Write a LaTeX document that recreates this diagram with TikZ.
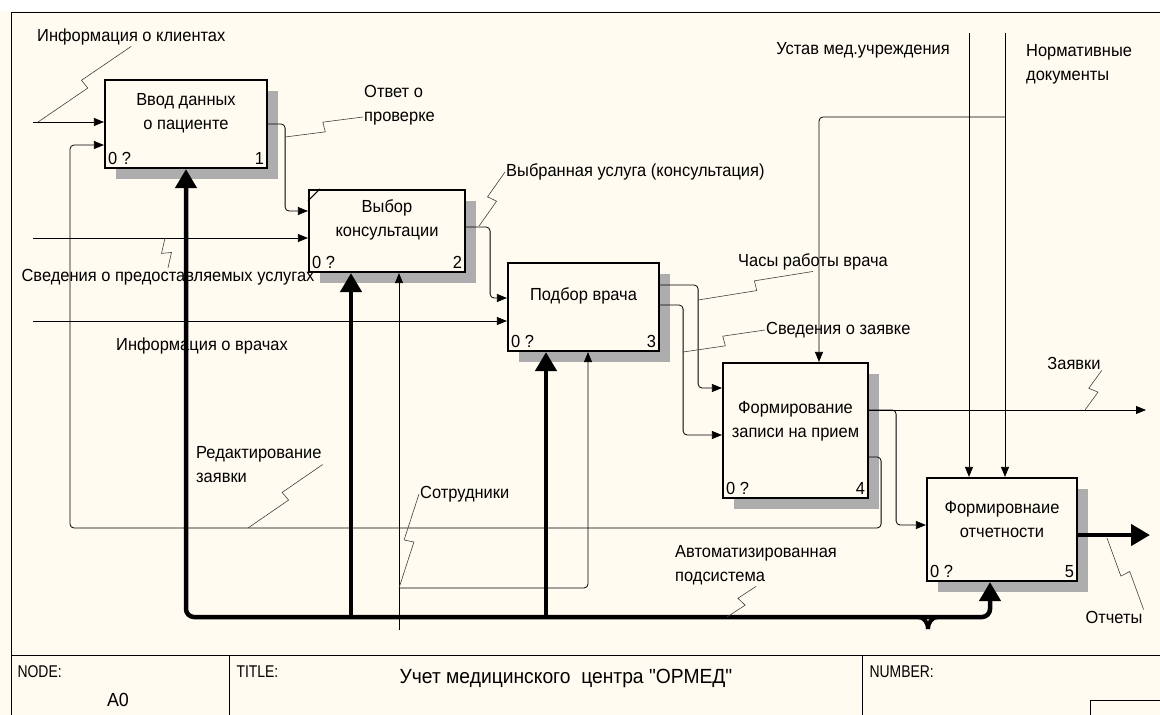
\documentclass[tikz,border=0pt]{standalone}
\usepackage{fontspec}
\setmainfont{Liberation Sans}[FakeStretch=0.94]
\newfontfamily\narrowfont{Liberation Sans}[FakeStretch=0.82]
\newfontfamily\plainfont{Liberation Sans}[FakeStretch=0.94]
\usetikzlibrary{arrows.meta,calc,shadows}
\definecolor{paper}{RGB}{255,251,240}
\newcommand\labfont{\fontsize{17.5}{24}\selectfont}

\begin{document}
\begin{tikzpicture}[x=1pt,y=-1pt,
  proc/.style={draw,line width=2.2pt,fill=paper,drop shadow={shadow xshift=11pt,shadow yshift=-11pt,fill=black!32,opacity=1}},
  ptxt/.style={font=\labfont,align=center},
  num/.style={font=\labfont,inner sep=4pt},
  lab/.style={font=\labfont,inner sep=1pt},
  flow/.style={line width=0.8pt,-{Triangle[length=10pt,width=8pt]}},
  mech/.style={line width=4.5pt,-{Triangle[length=19pt,width=21pt]}},
  squig/.style={draw=black!75,line width=0.6pt,to path={-- ($(\tikztostart)!0.5!(\tikztotarget)!5pt!-90:(\tikztotarget)$) -- ($(\tikztostart)!0.5!(\tikztotarget)!5pt!90:(\tikztotarget)$) -- (\tikztotarget)}},
  tab/.style={font=\narrowfont\fontsize{17}{20}\selectfont,anchor=west},
  frame/.style={line width=0.9pt}]
  \fill[paper] (0,0) rectangle (1160,715);
  \fill[white] (0,0) rectangle (1160,11);
  \useasboundingbox (0,0) rectangle (1160,715);

  % frame and title block
  \draw[frame] (11,715) -- (11,12) -- (1160,12);
  \draw[frame] (11,655) -- (1160,655);
  \draw[frame] (229,655) -- (229,715) (862,655) -- (862,715);
  \draw[frame] (1090,715) |- (1160,700);
  \node[tab] (tnode) at (14,672) {NODE:};
  \node[font=\fontsize{19}{22}\selectfont] (tnodeid) at (118,700) {A0};
  \node[tab] (ttitle) at (233,672) {TITLE:};
  \node[font=\plainfont\fontsize{20.5}{24}\selectfont] (ttext) at (566,678) {Учет медицинского\ \ центра "ОРМЕД"};
  \node[tab] (tnumber) at (866,672) {NUMBER:};

  % activities
  \node[proc,minimum width=162pt,minimum height=88pt] (b1) at (186,124) {};
  \node[proc,minimum width=156pt,minimum height=82pt] (b2) at (387,231) {};
  \node[proc,minimum width=151pt,minimum height=88pt] (b3) at (583.5,307) {};
  \node[proc,minimum width=145pt,minimum height=135pt] (b4) at (795.5,430.5) {};
  \node[proc,minimum width=150pt,minimum height=103pt] (b5) at (1002,529.5) {};
  \node[ptxt] (t1) at ([yshift=11pt]b1.center) {Ввод данных\\о пациенте};
  \node[ptxt] (t2) at ([yshift=11pt]b2.center) {Выбор\\консультации};
  \node[ptxt] (t3) at ([yshift=11pt]b3.center) {Подбор врача};
  \node[ptxt] (t4) at ([yshift=9pt]b4.center) {Формирование\\записи на прием};
  \node[ptxt] (t5) at ([yshift=10pt]b5.center) {Формировнаие\\отчетности};
  \foreach \b/\n in {b1/1,b2/2,b3/3,b4/4,b5/5}{
    \node[num,anchor=south west] (\b z) at (\b.south west) {0 ?};
    \node[num,anchor=south east] (\b n) at (\b.south east) {\n};
  }
  \draw[line width=1pt] ([yshift=-12pt]b2.north west) -- ([xshift=12pt]b2.north west);

  % arrow ends
  \coordinate (in1) at (33,122);
  \coordinate (in2) at (33,238);
  \coordinate (in3) at (33,321);
  \coordinate (c1) at (969,33);
  \coordinate (c2) at (1005,33);
  \coordinate (c2j) at (1005,117);
  \coordinate (o1) at (1146,410);
  \coordinate (o2) at (1150,535);
  \coordinate (m1) at (399,630);
  \coordinate (m1j) at (399,588);
  \coordinate (m2) at (928,617);
  \coordinate (loop) at (70,528);

  % inputs and outputs
  \draw[flow] (in1) -- (in1 -| b1.west);
  \draw[flow] (in2) -- (in2 -| b2.west);
  \draw[flow] (in3) -- (in3 -| b3.west);
  \draw[flow,rounded corners=4] (b1.east) -- ++(17,0) |- ([yshift=20pt]b2.west);
  \draw[flow,rounded corners=4] ([yshift=4pt]b2.east) -- ++(24,0) |- ([yshift=9pt]b3.west);
  \draw[flow,rounded corners=4] ([yshift=22pt]b3.east) -- ++(38,0) |- ([yshift=42.5pt]b4.west);
  \draw[flow,rounded corners=4] ([yshift=2pt]b3.east) -- ++(23,0) |- ([yshift=-4.5pt]b4.west);
  \draw[flow] ([yshift=20.5pt]b4.east) -- (o1);
  \draw[flow,rounded corners=4] ([yshift=20.5pt]b4.east) -- ++(27,0) |- ([yshift=4.5pt]b5.west);
  \draw[flow,rounded corners=4] ([yshift=-26.5pt]b4.east) -- ++(12,0) |- (loop) |- ([yshift=-21pt]b1.west);
  \draw[mech] ([yshift=-5.5pt]b5.east) -- (o2);

  % controls
  \draw[flow] (c1) -- (c1 |- b5.north);
  \draw[flow] (c2) -- (c2 |- b5.north);
  \draw[flow,rounded corners=4] (c2j) -| ([xshift=23.5pt]b4.north);

  % mechanisms
  \draw[mech,rounded corners=8] (m2) -| (b1.south);
  \draw[mech,rounded corners=8] (m2) -| ([xshift=-12pt]b5.south);
  \draw[mech] ([xshift=-36pt]b2.south |- m2) -- ([xshift=-36pt]b2.south);
  \draw[mech] ([xshift=-37.5pt]b3.south |- m2) -- ([xshift=-37.5pt]b3.south);
  \draw[line width=4pt] ([xshift=-10pt]m2) to[out=0,in=90] ([yshift=-12pt]m2);
  \draw[line width=4pt] ([xshift=10pt]m2) to[out=180,in=90] ([yshift=-12pt]m2);
  \draw[flow] (m1) -- (m1 |- b2.south);
  \draw[flow,rounded corners=4] (m1j) -| ([xshift=4.5pt]b3.south);

  % labels
  \node[lab,anchor=west] (l1) at (36,37) {Информация о клиентах};
  \node[lab,anchor=west,align=left] (l2) at (363,105) {Ответ о\\проверке};
  \node[lab] (l3) at (168,277) {Сведения о предоставляемых услугах};
  \node[lab] (l4) at (202,346) {Информация о врачах};
  \node[lab,anchor=west] (l5) at (505,172) {Выбранная услуга (консультация)};
  \node[lab] (l6) at (813,262) {Часы работы врача};
  \node[lab,anchor=west] (l7) at (765,330) {Сведения о заявке};
  \node[lab,anchor=east] (l8) at (951,50) {Устав мед.учреждения};
  \node[lab,anchor=west,align=left] (l9) at (1025,64.5) {Нормативные\\документы};
  \node[lab] (l10) at (1074,363) {Заявки};
  \node[lab] (l11) at (1114,617) {Отчеты};
  \node[lab,anchor=west,align=left] (l12) at (674,565.5) {Автоматизированная\\подсистема};
  \node[lab,anchor=west,align=left] (l13) at (195,464.5) {Редактирование\\заявки};
  \node[lab,anchor=west] (l14) at (419,494) {Сотрудники};

  % squiggles
  \draw[squig] ([xshift=5pt]in1) to (l1.south);
  \draw[squig] ([xshift=17pt,yshift=-13pt]b1.east) to ([yshift=-12pt]l2.west);
  \draw[squig] ([xshift=132pt]in2) to (l3.north);
  \draw[squig] ([xshift=13pt,yshift=5pt]b2.east) to (l5.west);
  \draw[squig] ([xshift=38pt,yshift=7pt]b3.east) to (l6.south);
  \draw[squig] ([xshift=23pt,yshift=-45pt]b3.east) to (l7.west);
  \draw[squig] ([xshift=-61pt]o1) to (l10.south east);
  \draw[squig] ([xshift=-43pt,yshift=-3pt]o2) to (l11.north east);
  \draw[squig] ([xshift=-201pt]m2) to (l12.south);
  \draw[squig] ([xshift=178pt]loop) to (l13.east);
  \draw[squig] (m1j) to (l14.west);
\end{tikzpicture}
\end{document}
